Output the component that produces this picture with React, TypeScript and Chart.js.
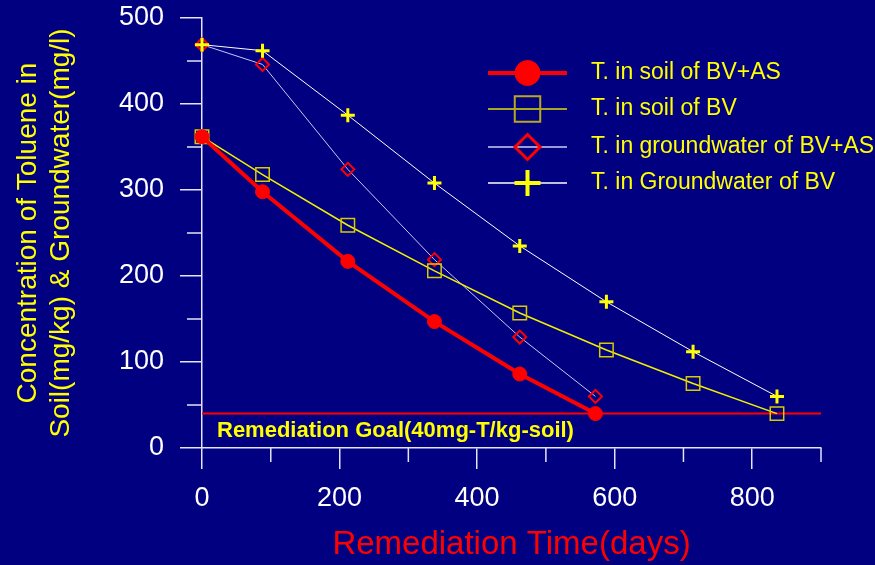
import React, { useEffect, useRef } from 'react';
import { Chart, registerables } from 'chart.js';
import { drawPoint } from 'chart.js/helpers';

Chart.register(...registerables);

// ---- data ----
const daysBVAS = [0, 88, 212, 338, 462, 572];
const soilBVAS = [362, 298, 217, 147, 86, 40];
const gwBVAS = [469, 446, 324, 219, 129, 60];
const daysBV = [0, 88, 212, 338, 462, 588, 714, 836];
const soilBV = [362, 318, 259, 206, 157, 114, 75, 40];
const gwBV = [469, 462, 387, 308, 235, 170, 112, 60];

const seriesLabels = [
  'T. in soil of BV+AS',
  'T. in soil of BV',
  'T. in groundwater of BV+AS',
  'T. in Groundwater of BV',
];
const goalValue = 40;
const goalRange = [0, 900];
const goalLabel = 'Remediation Goal(40mg-T/kg-soil)';
const xTitle = 'Remediation Time(days)';
const yTitle = ['Concentration of Toluene in', 'Soil(mg/kg) & Groundwater(mg/l)'];
const xMin = 0, xMax = 900, xStep = 100, xLabelStep = 200;
const yMin = 0, yMax = 500, yStep = 50, yLabelStep = 100;

const BG = '#000080';
const AXIS = '#e4e4f8';
const FONT = "Arial, 'Liberation Sans', Helvetica, sans-serif";

const pts = (xs: number[], ys: number[]) => xs.map((x, i) => ({ x, y: ys[i] }));

const legendStyles = [
  { line: '#ff0000', lineWidth: 4, style: 'circle', radius: 12.5, fill: '#ff0000', stroke: '#ff0000', bw: 1 },
  { line: '#e0e000', lineWidth: 1.5, style: 'rect', radius: 18, fill: 'rgba(0,0,0,0)', stroke: '#b8a820', bw: 2 },
  { line: '#9a9ad8', lineWidth: 2, style: 'rectRot', radius: 12.5, fill: 'rgba(0,0,0,0)', stroke: '#ff0000', bw: 3 },
  { line: '#ffffff', lineWidth: 1.5, style: 'cross', radius: 13, fill: 'rgba(0,0,0,0)', stroke: '#ffff00', bw: 4 },
];

const bgPlugin = {
  id: 'bg',
  beforeDraw(chart: any) {
    const { ctx, width, height } = chart;
    ctx.save();
    ctx.fillStyle = BG;
    ctx.fillRect(0, 0, width, height);
    ctx.restore();
  },
};

const minorTicksPlugin = {
  id: 'minorTicks',
  afterDraw(chart: any) {
    const { ctx, chartArea, scales } = chart;
    ctx.save();
    ctx.strokeStyle = AXIS;
    ctx.lineWidth = 1.5;
    for (let v = yMin + yStep; v <= yMax; v += yStep) {
      if (v % yLabelStep === 0) continue;
      const y = scales.y.getPixelForValue(v);
      ctx.beginPath();
      ctx.moveTo(chartArea.left - 15, y);
      ctx.lineTo(chartArea.left, y);
      ctx.stroke();
    }
    for (let v = xMin + xStep; v <= xMax; v += xStep) {
      if (v % xLabelStep === 0) continue;
      const x = scales.x.getPixelForValue(v);
      ctx.beginPath();
      ctx.moveTo(x, chartArea.bottom);
      ctx.lineTo(x, chartArea.bottom + 14);
      ctx.stroke();
    }
    ctx.restore();
  },
};

const annotPlugin = {
  id: 'annot',
  afterDatasetsDraw(chart: any) {
    const { ctx, chartArea, scales } = chart;
    ctx.save();
    // goal label
    ctx.font = `bold 22px ${FONT}`;
    ctx.fillStyle = '#ffff00';
    ctx.textAlign = 'left';
    ctx.textBaseline = 'middle';
    ctx.fillText(goalLabel, chartArea.left + 15, scales.y.getPixelForValue(goalValue) + 17);

    // legend
    const lx0 = chartArea.left + 286;
    const lx1 = chartArea.left + 365;
    const mx = (lx0 + lx1) / 2;
    const tx = chartArea.left + 389;
    const rowY = [55, 91, 129, 165];
    ctx.font = `23px ${FONT}`;
    legendStyles.forEach((s, i) => {
      const y = chartArea.top + rowY[i];
      ctx.strokeStyle = s.line;
      ctx.lineWidth = s.lineWidth;
      ctx.beginPath();
      ctx.moveTo(lx0, y);
      ctx.lineTo(lx1, y);
      ctx.stroke();
      ctx.fillStyle = s.fill;
      ctx.strokeStyle = s.stroke;
      ctx.lineWidth = s.bw;
      drawPoint(ctx, { pointStyle: s.style, radius: s.radius, rotation: 0, borderWidth: s.bw } as any, mx, y);
      ctx.fillStyle = '#ffff00';
      ctx.textBaseline = 'middle';
      ctx.fillText(seriesLabels[i], tx, y);
    });
    ctx.restore();
  },
};

export default function App() {
  const ref = useRef<HTMLCanvasElement | null>(null);

  useEffect(() => {
    if (!ref.current) return;
    Chart.defaults.font.family = FONT;
    const chart = new Chart(ref.current, {
      type: 'line',
      data: {
        datasets: [
          {
            label: seriesLabels[0],
            data: pts(daysBVAS, soilBVAS),
            borderColor: '#ff0000',
            borderWidth: 4,
            pointStyle: 'circle',
            pointRadius: 7,
            pointBackgroundColor: '#ff0000',
            pointBorderColor: '#ff0000',
            pointBorderWidth: 1,
            order: 0,
            clip: false,
          },
          {
            label: seriesLabels[1],
            data: pts(daysBV, soilBV),
            borderColor: '#f0f000',
            borderWidth: 1.5,
            pointStyle: 'rect',
            pointRadius: 9.5,
            pointBackgroundColor: 'rgba(0,0,0,0)',
            pointBorderColor: '#d8cc00',
            pointBorderWidth: 1.5,
            order: 2,
            clip: false,
          },
          {
            label: seriesLabels[2],
            data: pts(daysBVAS, gwBVAS),
            borderColor: '#c8c8f4',
            borderWidth: 1,
            pointStyle: 'rectRot',
            pointRadius: 6.5,
            pointBackgroundColor: 'rgba(0,0,0,0)',
            pointBorderColor: '#ff0000',
            pointBorderWidth: 2,
            order: 3,
            clip: false,
          },
          {
            label: seriesLabels[3],
            data: pts(daysBV, gwBV),
            borderColor: '#ffffff',
            borderWidth: 1,
            pointStyle: 'cross',
            pointRadius: 7,
            pointBackgroundColor: '#ffff00',
            pointBorderColor: '#ffff00',
            pointBorderWidth: 3,
            order: 1,
            clip: false,
          },
          {
            label: 'goal',
            data: goalRange.map((x) => ({ x, y: goalValue })),
            borderColor: '#ff0000',
            borderWidth: 2,
            pointRadius: 0,
            order: 5,
            clip: false,
          },
        ],
      },
      options: {
        animation: false,
        responsive: false,
        events: [],
        layout: { padding: { left: 0, top: 18, right: 54, bottom: 0 } },
        elements: { line: { tension: 0 } },
        plugins: { legend: { display: false }, tooltip: { enabled: false } },
        scales: {
          x: {
            type: 'linear',
            min: xMin,
            max: xMax,
            afterFit: (s: any) => { s.height = 117; s.paddingLeft = 0; s.paddingRight = 0; },
            border: { color: AXIS, width: 1.5 },
            grid: {
              drawOnChartArea: false,
              tickLength: 21,
              lineWidth: 1.5,
              color: (c: any) => (c.tick && c.tick.value % xLabelStep === 0 ? AXIS : 'rgba(0,0,0,0)'),
            },
            ticks: {
              stepSize: xStep,
              color: '#ffffff',
              font: { size: 27 },
              padding: 13,
              maxRotation: 0,
              autoSkip: false,
              callback: (v: any) => (Number(v) % xLabelStep === 0 ? String(v) : ''),
            },
            title: {
              display: true,
              text: xTitle,
              color: '#ff0000',
              font: { size: 33 },
              padding: { top: 0, bottom: 0 },
            },
          },
          y: {
            type: 'linear',
            min: yMin,
            max: yMax,
            afterFit: (s: any) => { s.width = 202; s.paddingTop = 0; s.paddingBottom = 0; },
            border: { color: AXIS, width: 1.5 },
            grid: {
              drawOnChartArea: false,
              tickLength: 22,
              lineWidth: 1.5,
              color: (c: any) => (c.tick && c.tick.value % yLabelStep === 0 ? AXIS : 'rgba(0,0,0,0)'),
            },
            ticks: {
              stepSize: yStep,
              color: '#ffffff',
              font: { size: 27 },
              padding: 16,
              autoSkip: false,
              callback: (v: any) => (Number(v) % yLabelStep === 0 ? String(v) : ''),
            },
            title: {
              display: true,
              text: yTitle,
              color: '#ffff00',
              font: { size: 28 },
              padding: { top: 11, bottom: 0 },
            },
          },
        },
      },
      plugins: [bgPlugin, minorTicksPlugin, annotPlugin],
    } as any);
    return () => chart.destroy();
  }, []);

  return (
    <div style={{ position: 'fixed', left: 0, top: 0, width: 875, height: 565, background: BG }}>
      <canvas ref={ref} width={875} height={565} style={{ display: 'block' }} />
    </div>
  );
}
